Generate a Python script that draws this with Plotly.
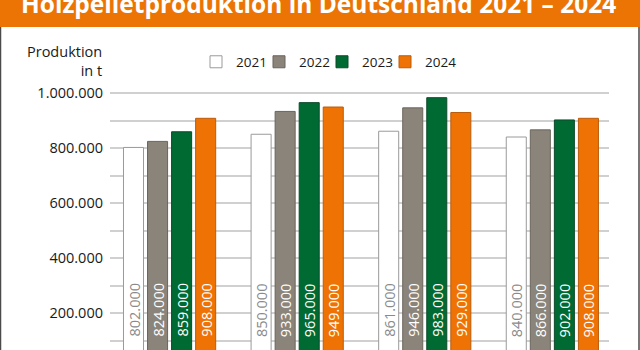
import plotly.graph_objects as go

categories = ["1. Quartal", "2. Quartal", "3. Quartal", "4. Quartal"]
years = ["2021", "2022", "2023", "2024"]
values_2021 = [802000, 850000, 861000, 840000]
values_2022 = [824000, 933000, 946000, 866000]
values_2023 = [859000, 965000, 983000, 902000]
values_2024 = [908000, 949000, 929000, 908000]
series = [values_2021, values_2022, values_2023, values_2024]

fill_colors = ["#ffffff", "#8b847a", "#006a33", "#ee7304"]
line_colors = ["#9a9a9a", "#6a645c", "#0d4a2b", "#b95c0c"]
label_colors = ["#8a8a8a", "#ffffff", "#ffffff", "#ffffff"]

title_text = "Holzpelletproduktion in Deutschland 2021 – 2024"
ytitle_text = "Produktion<br>in t"

W, H = 640, 350
ML, MR, MT, MB = 110, 31, 90, 0
PW, PH = W - ML - MR, H - MT - MB

FONT = "Open Sans"
BARGAP = 0.246
GROUPGAP = 0.167

def px_x(p):
    return (p - ML) / PW

def px_y(p):
    return (H - MB - p) / PH

k = 275 / 1_000_000          # pixels per unit
zero_px = 368                # pixel row of the value 0
ymax = 1_000_000 + (93 - MT) / k
ymin = 1_000_000 - (H - MB - 93) / k
label_base = (zero_px - 338) / k   # value level where the bar labels start

fig = go.Figure()
for i, (yr, vals) in enumerate(zip(years, series)):
    fig.add_trace(go.Bar(
        name=yr, x=categories, y=vals,
        marker=dict(color=fill_colors[i], line=dict(color=line_colors[i], width=1)),
    ))
# invisible spacer entry so the last legend label is not clipped
fig.add_trace(go.Scatter(x=[categories[0]], y=[None], mode="markers", name=" ",
                         visible="legendonly",
                         marker=dict(color="rgba(0,0,0,0)", size=1), hoverinfo="skip"))

# value labels inside bars (rotated)
slot = (1 - BARGAP) / len(years)
for i, vals in enumerate(series):
    for j, v in enumerate(vals):
        fig.add_annotation(
            x=j + (i - (len(years) - 1) / 2) * slot, y=label_base, xref="x", yref="y",
            text=f"{v:,}".replace(",", "."), textangle=-90, showarrow=False,
            xanchor="center", yanchor="bottom", borderpad=0,
            font=dict(family=FONT, size=14.5, color=label_colors[i]),
        )

# title band
fig.add_shape(type="rect", xref="paper", yref="paper",
              x0=px_x(0), x1=px_x(W), y0=px_y(27), y1=px_y(-2),
              fillcolor="#ec7404", line=dict(width=0), layer="below")
fig.add_annotation(xref="paper", yref="paper", x=px_x(318.5), y=px_y(3),
                   text=f"<b>{title_text}</b>", showarrow=False,
                   xanchor="center", yanchor="middle",
                   font=dict(family=FONT, size=24.5, color="#ffffff"))
# side borders
for xp in (0.5, W - 1.0):
    fig.add_shape(type="line", xref="paper", yref="paper",
                  x0=px_x(xp), x1=px_x(xp), y0=px_y(H), y1=px_y(27),
                  line=dict(color="#4a4a4a", width=1.5))

# y axis title
fig.add_annotation(xref="paper", yref="paper", x=px_x(104), y=px_y(61),
                   text=ytitle_text, showarrow=False, align="right",
                   xanchor="right", yanchor="middle",
                   font=dict(family=FONT, size=14.5, color="#1a1a1a"))

fig.update_layout(
    width=W, height=H, autosize=False,
    margin=dict(l=ML, r=MR, t=MT, b=MB, pad=0),
    paper_bgcolor="#ffffff", plot_bgcolor="#ffffff",
    separators=",.",
    barmode="group", bargap=BARGAP, bargroupgap=GROUPGAP,
    font=dict(family=FONT, color="#1a1a1a"),
    showlegend=True,
    legend=dict(orientation="h", x=px_x(196), y=px_y(62), xanchor="left", yanchor="middle",
                font=dict(family=FONT, size=13.5, color="#1a1a1a"),
                entrywidth=18, entrywidthmode="pixels", traceorder="normal",
                bgcolor="rgba(0,0,0,0)", itemclick=False, itemdoubleclick=False),
    xaxis=dict(type="category", range=[-0.467, 3.444], showticklabels=False,
               showgrid=False, zeroline=False, showline=False),
    yaxis=dict(range=[ymin, ymax], tickvals=[200000, 400000, 600000, 800000, 1000000],
               tickformat=",d", showgrid=True, gridcolor="#d0d0d0", gridwidth=1.5,
               zeroline=False, showline=False, ticklabelstandoff=6,
               tickfont=dict(family=FONT, size=14.5, color="#1a1a1a"),
               minor=dict(dtick=100000, tick0=0, showgrid=True, gridcolor="#d0d0d0", gridwidth=1.5)),
)

fig.write_html("out.html")
